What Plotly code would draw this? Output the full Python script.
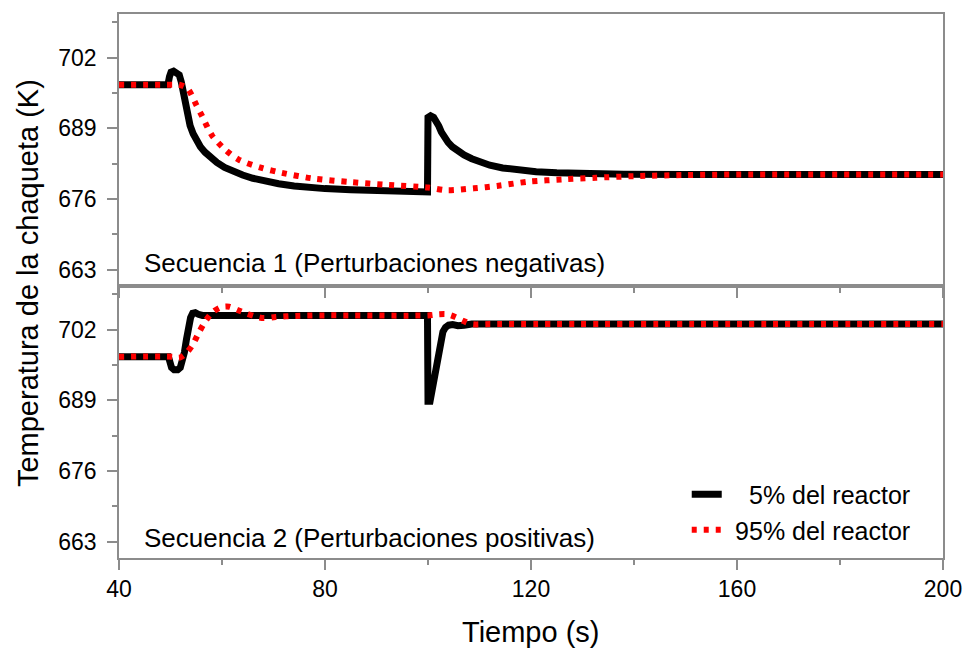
import plotly.graph_objects as go

# ---------------- data ----------------
# Secuencia 1 (top panel) - 5% del reactor
t_s1_5 = [40, 49.5, 49.8, 50.1, 50.6, 51.2, 51.7, 52.1, 52.5, 52.9, 53.3, 53.8, 54.4, 55.0, 55.8, 56.7, 57.8,
          59, 60.5, 62, 64, 66, 68.5, 71, 74, 77, 80, 85, 90, 95, 99.9,
          100.0, 100.5, 101.1, 101.6, 102.1, 102.6, 103.2, 103.9, 104.7, 105.7, 107, 108.5, 110, 112,
          114.5, 117.5, 121, 125, 130, 138, 150, 200]
v_s1_5 = [697, 697, 698.5, 699.3, 699.5, 699.3, 698.8, 697.5, 695.5, 693.3, 691.3, 689.5, 688.0, 686.8, 685.6, 684.6, 683.6,
          682.7, 681.8, 681.1, 680.4, 679.8, 679.2, 678.8, 678.4, 678.1, 677.9, 677.7, 677.5, 677.35, 677.3,
          691.0, 691.3, 691.0, 690.4, 689.4, 688.3, 687.3, 686.4, 685.6, 684.9, 684.1, 683.4, 682.8, 682.2,
          681.7, 681.3, 681.0, 680.8, 680.65, 680.55, 680.5, 680.5]

# Secuencia 1 (top panel) - 95% del reactor
t_s1_95 = [40, 50.5, 51.7, 53.3, 55.0, 56.2, 58.1, 60.7, 63.3, 67.7, 71.6, 77.4, 85, 92, 100,
           103.7, 108.9, 113.4, 119.7, 126.2, 132.6, 140.3, 150, 160, 200]
v_s1_95 = [697, 697, 697, 696.3, 693.3, 691.1, 687.6, 685.0, 683.2, 681.7, 680.8, 679.8, 679.1, 678.6, 678.1,
           677.6, 677.95, 678.4, 679.2, 679.6, 679.9, 680.2, 680.4, 680.5, 680.5]

# Secuencia 2 (bottom panel) - 5% del reactor
t_s2_5 = [40, 49.6, 49.9, 50.2, 50.7, 51.4, 51.9, 52.3, 52.7, 53.1, 53.5, 53.9, 54.3, 54.8, 55.4, 56.2, 99.9,
          100.0, 100.4, 100.9, 101.4, 101.9, 102.4, 102.9, 103.4, 104.0, 104.8, 105.8, 107, 108.5, 200]
v_s2_5 = [697, 697, 696.0, 695.0, 694.6, 694.6, 695.0, 696.0, 697.8, 700.2, 702.5, 704.2, 705.0, 705.1, 704.8, 704.6, 704.6,
          688.8, 688.8, 691.5, 694.5, 697.5, 700.0, 701.6, 702.4, 702.8, 702.9, 702.7, 702.8, 703.0, 703.0]

# Secuencia 2 (bottom panel) - 95% del reactor
t_s2_95 = [40, 50.5, 51.7, 53.0, 54.3, 55.6, 56.9, 58.2, 59.8, 61.4, 63.0, 64.6, 66.5, 68.1, 70.4, 74.2, 80,
           100, 102.1, 103.7, 105.3, 106.8, 108.5, 112, 200]
v_s2_95 = [697, 697, 696.8, 697.6, 699.2, 701.6, 703.7, 705.2, 706.1, 706.2, 705.6, 705.0, 704.4, 704.1, 704.3, 704.5, 704.6,
           704.6, 704.8, 704.8, 704.3, 703.6, 703.0, 703.0, 703.0]

series_names = ["\u2004\u20075% del reactor", "\u200495% del reactor"]
panel_labels = ["Secuencia 1 (Perturbaciones negativas)", "Secuencia 2 (Perturbaciones positivas)"]
y_ticks = [663, 676, 689, 702]
x_ticks = [40, 80, 120, 160, 200]

FONT = "Liberation Sans, Arial, sans-serif"
FRAME = "#8c8c8c"
RED_DASH = "5px,7px"

fig = go.Figure()

# top panel (x2, y2)
fig.add_trace(go.Scatter(x=t_s1_5, y=v_s1_5, mode="lines", name=series_names[0],
                         line=dict(color="black", width=7), xaxis="x2", yaxis="y2", legendrank=1))
fig.add_trace(go.Scatter(x=t_s1_95, y=v_s1_95, mode="lines", name=series_names[1],
                         line=dict(color="#ff0000", width=6, dash=RED_DASH, shape="spline", smoothing=0.8),
                         xaxis="x2", yaxis="y2", legendrank=2))
# bottom panel (x, y)
fig.add_trace(go.Scatter(x=t_s2_5, y=v_s2_5, mode="lines", name=series_names[0], showlegend=False,
                         line=dict(color="black", width=7), xaxis="x", yaxis="y"))
fig.add_trace(go.Scatter(x=t_s2_95, y=v_s2_95, mode="lines", name=series_names[1], showlegend=False,
                         line=dict(color="#ff0000", width=6, dash=RED_DASH, shape="spline", smoothing=0.8),
                         xaxis="x", yaxis="y"))

xcommon = dict(range=[40, 200], tickvals=x_ticks, showline=True, linecolor=FRAME, linewidth=1.5,
               mirror=True, ticks="outside", ticklen=10, tickwidth=1.5, tickcolor=FRAME,
               minor=dict(dtick=20, tick0=40, ticks="outside", ticklen=5, tickwidth=1.5, tickcolor=FRAME),
               showgrid=False, zeroline=False, tickfont=dict(size=23, color="black", family=FONT))
ycommon = dict(range=[660, 710], tickvals=y_ticks, showline=True, linecolor=FRAME, linewidth=1.5,
               mirror=True, ticks="outside", ticklen=10, tickwidth=1.5, tickcolor=FRAME,
               minor=dict(dtick=6.5, tick0=663, ticks="outside", ticklen=5, tickwidth=1.5, tickcolor=FRAME),
               showgrid=False, zeroline=False, ticklabelstandoff=6,
               tickfont=dict(size=23, color="black", family=FONT))

fig.update_layout(
    width=974, height=648, autosize=False,
    margin=dict(l=119, r=24, t=14, b=90),
    paper_bgcolor="white", plot_bgcolor="white",
    font=dict(family=FONT, color="black"),
    xaxis=dict(**xcommon, anchor="y", domain=[0, 1]),
    yaxis=dict(**ycommon, anchor="x", domain=[0, 0.5]),
    xaxis2=dict(**xcommon, anchor="y2", domain=[0, 1], showticklabels=False),
    yaxis2=dict(**ycommon, anchor="x2", domain=[0.5, 1]),
    legend=dict(x=0.689, y=0.159, xanchor="left", yanchor="top", bgcolor="rgba(0,0,0,0)",
                font=dict(size=25, family=FONT, color="black"), tracegroupgap=0),
    showlegend=True,
    annotations=[
        dict(text=panel_labels[0], x=44.4, y=664.2, xref="x2", yref="y2", xanchor="left", yanchor="middle",
             showarrow=False, font=dict(size=26, family=FONT, color="black")),
        dict(text=panel_labels[1], x=44.4, y=663.7, xref="x", yref="y", xanchor="left", yanchor="middle",
             showarrow=False, font=dict(size=26, family=FONT, color="black")),
        dict(text="Temperatura de la chaqueta (K)", x=-0.1095, y=0.505, xref="paper", yref="paper",
             xanchor="center", yanchor="middle", textangle=-90, showarrow=False,
             font=dict(size=29, family=FONT, color="black")),
        dict(text="Tiempo (s)", x=0.4994, y=-0.136, xref="paper", yref="paper",
             xanchor="center", yanchor="middle", showarrow=False,
             font=dict(size=29, family=FONT, color="black")),
    ],
)

fig.write_html(
    "out.html",
    config={"responsive": False, "displayModeBar": False},
    post_script=("document.body.style.margin='0px';"
                 "document.body.style.overflow='hidden';"
                 "document.documentElement.style.overflow='hidden';"),
)
